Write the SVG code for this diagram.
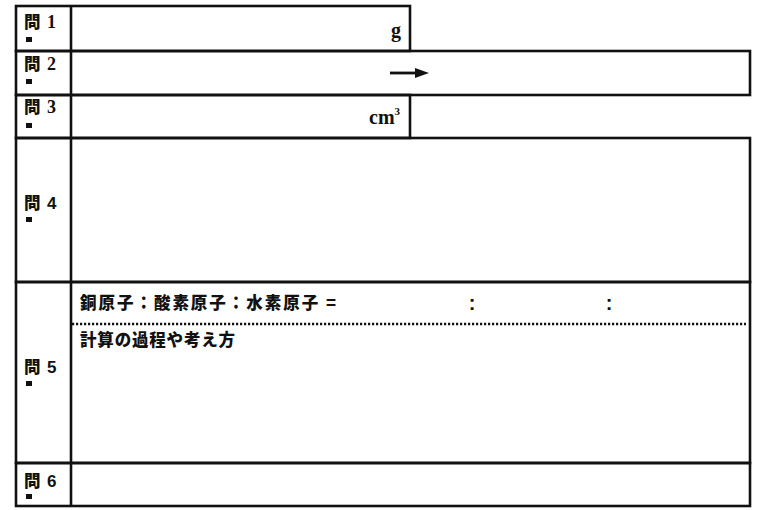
<svg xmlns="http://www.w3.org/2000/svg" width="757" height="510" viewBox="0 0 757 510">
<style>
.box{fill:none;stroke:#111;stroke-width:2.6}
.lbl{font-family:"Noto Sans CJK JP",sans-serif;font-weight:900;font-size:16.5px;fill:#111}
.num{font-family:"Liberation Serif",serif;font-weight:bold;font-size:18px;fill:#111}
.nums{font-family:"Liberation Sans",sans-serif;font-weight:bold;font-size:17px;fill:#111}
.mk{fill:#111}
.jp{font-family:"Noto Sans CJK JP",sans-serif;font-weight:900;font-size:16.5px;fill:#111}
.unit{font-family:"Liberation Serif",serif;font-weight:bold;font-size:20px;fill:#111}
.colon{font-family:"Liberation Sans",sans-serif;font-weight:bold;font-size:20px;fill:#111}
</style>
<rect width="757" height="510" fill="#fff"/>
<g id="q1">
<rect class="box" x="16" y="6" width="394" height="45"/>
<line class="box" x1="71" y1="6" x2="71" y2="51"/>
<text class="lbl" x="24" y="28">問</text><text class="num" x="47" y="28">1</text>
<rect class="mk" x="26" y="37" width="6" height="5"/>
<text class="unit" x="401" y="37" text-anchor="end">g</text>
</g>
<g id="q2">
<rect class="box" x="16" y="51" width="734" height="44"/>
<line class="box" x1="71" y1="51" x2="71" y2="95"/>
<text class="lbl" x="24" y="70">問</text><text class="num" x="47" y="70">2</text>
<rect class="mk" x="26" y="79" width="6" height="5"/>
<line x1="390" y1="73" x2="418" y2="73" stroke="#111" stroke-width="2.8"/>
<polygon points="415,68 429,73 415,78" fill="#111"/>
</g>
<g id="q3">
<rect class="box" x="16" y="95" width="394" height="43"/>
<line class="box" x1="71" y1="95" x2="71" y2="138"/>
<text class="lbl" x="24" y="113">問</text><text class="num" x="47" y="113">3</text>
<rect class="mk" x="26" y="123" width="6" height="5"/>
<text class="unit" x="369" y="124">cm<tspan font-size="11" dy="-9">3</tspan></text>
</g>
<g id="q4">
<rect class="box" x="16" y="138" width="734" height="144"/>
<line class="box" x1="71" y1="138" x2="71" y2="282"/>
<text class="lbl" x="24" y="209">問</text><text class="nums" x="47" y="209">4</text>
<rect class="mk" x="26" y="217" width="6" height="5"/>
</g>
<g id="q5">
<rect class="box" x="16" y="282" width="734" height="181"/>
<line class="box" x1="71" y1="282" x2="71" y2="463"/>
<text class="lbl" x="24" y="373">問</text><text class="nums" x="47" y="373">5</text>
<rect class="mk" x="26" y="381" width="6" height="5"/>
<text class="jp" x="80" y="309" textLength="256" lengthAdjust="spacing">銅原子：酸素原子：水素原子 =</text>
<text class="colon" x="472" y="310" text-anchor="middle">:</text>
<text class="colon" x="609" y="310" text-anchor="middle">:</text>
<line x1="72" y1="324" x2="746" y2="324" stroke="#111" stroke-width="2.4" stroke-dasharray="2.2 1.8"/>
<text class="jp" x="80" y="346" textLength="155" lengthAdjust="spacing">計算の過程や考え方</text>
</g>
<g id="q6">
<rect class="box" x="16" y="463" width="734" height="43"/>
<line class="box" x1="71" y1="463" x2="71" y2="506"/>
<text class="lbl" x="24" y="487">問</text><text class="nums" x="47" y="487">6</text>
<rect class="mk" x="26" y="494" width="6" height="5"/>
</g>
</svg>
